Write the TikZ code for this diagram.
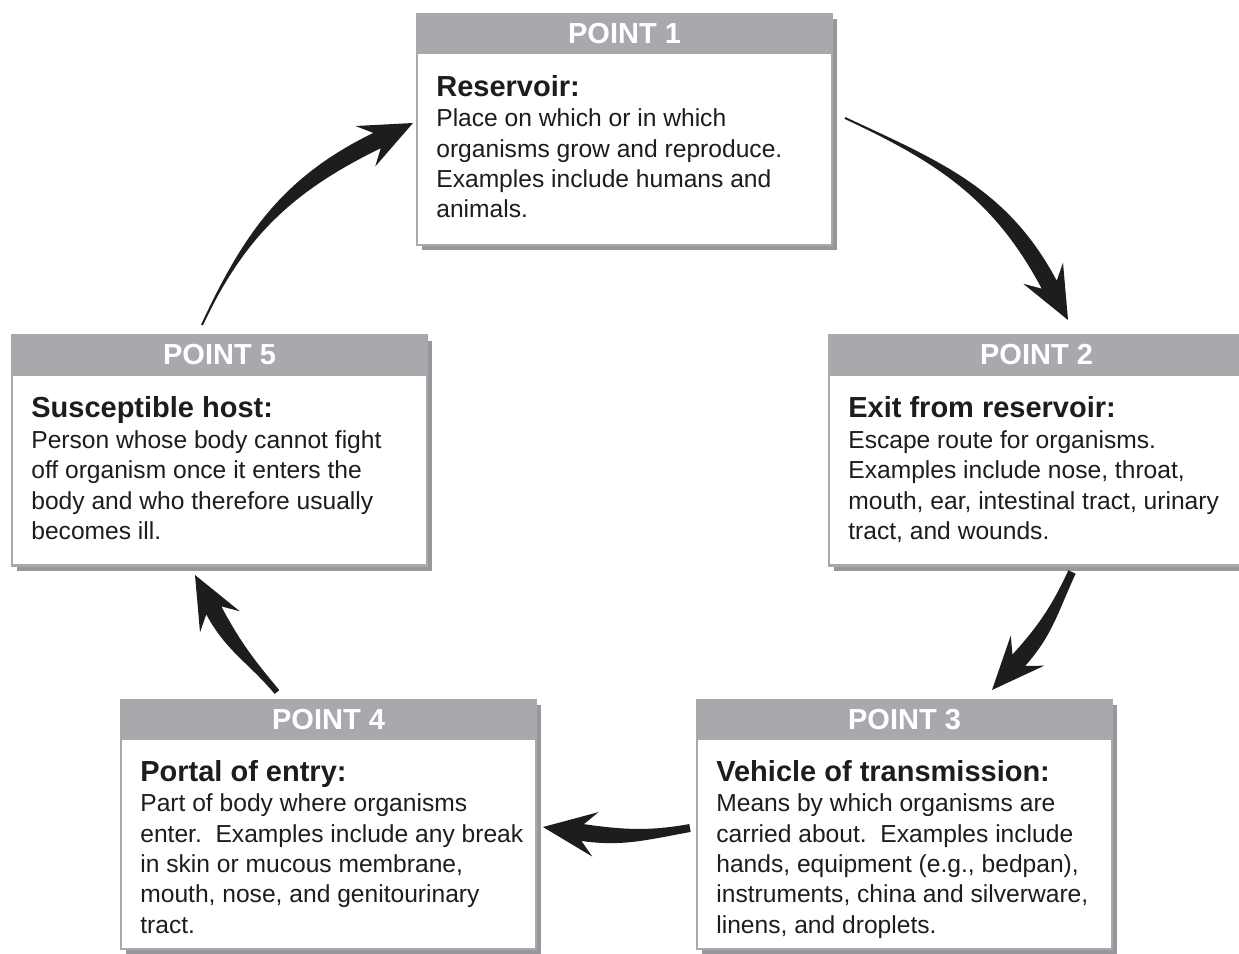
\documentclass[tikz,border=0pt]{standalone}
\usepackage{fontspec}
\setmainfont{Liberation Sans}
\usepackage{tikz}
\usetikzlibrary{positioning,calc,shadows}
\definecolor{boxgrey}{RGB}{167,169,172}
\definecolor{shadegrey}{RGB}{150,152,155}
\definecolor{inkblack}{RGB}{30,28,29}

% tapered arrow: start, end, out angle, arrival angle, start half width
\newcommand{\taperarrow}[5]{%
    \pgfmathsetmacro{\tback}{#4+180}
    \pgfmathsetmacro{\tleft}{#4+90}
    \pgfmathsetmacro{\tright}{#4-90}
    \pgfmathsetmacro{\sleft}{#3+90}
    \pgfmathsetmacro{\sright}{#3-90}
    \fill[bigarrow] ($(#1)+(\sleft:#5)$) to[out=#3,in=\tback] ($(#2)+(\tback:0.8)+(\tleft:0.17)$)
        -- ($(#2)+(\tback:1.06)+(\tleft:0.45)$) -- (#2)
        -- ($(#2)+(\tback:1.06)+(\tright:0.45)$)
        -- ($(#2)+(\tback:0.8)+(\tright:0.17)$) to[out=\tback,in=#3] ($(#1)+(\sright:#5)$) -- cycle;
}
\newcommand{\ptitle}[1]{{\fontsize{16.5}{17.3}\selectfont\bfseries #1}}

\begin{document}
\begin{tikzpicture}[
        pointhead/.style={
            rectangle,
            minimum width=8.3cm,
            minimum height=0.78cm,
            inner sep=0pt,
            outer sep=0pt,
            draw=boxgrey,
            line width=1.5pt,
            fill=boxgrey,
            text=white,
            font=\fontsize{16.5}{18}\selectfont\bfseries,
            drop shadow={shadow xshift=0.1cm, shadow yshift=-0.1cm, fill=shadegrey, opacity=1}
        },
        pointbody/.style={
            rectangle,
            minimum width=8.3cm,
            inner sep=0pt,
            outer sep=0pt,
            draw=boxgrey,
            line width=1.5pt,
            fill=white,
            drop shadow={shadow xshift=0.1cm, shadow yshift=-0.1cm, fill=shadegrey, opacity=1}
        },
        pointtext/.style={
            anchor=north west,
            align=left,
            inner sep=0pt,
            text=inkblack,
            font=\fontsize{14}{17.3}\selectfont
        },
        bigarrow/.style={
            fill=inkblack
        }
    ]
    \useasboundingbox[fill=white] (0,0) rectangle (24.78,-19.06);

    % Point 1 at the top
    \node[pointhead] (p1head) at (12.49,-0.67) {POINT 1};
    \node[pointbody, minimum height=3.84cm, below=0pt of p1head] (p1body) {};
    \node[pointtext] (p1text) at ([xshift=0.38cm,yshift=-0.44cm]p1body.north west) {\ptitle{Reservoir:}\\Place on which or in which\\organisms grow and reproduce.\\Examples include humans and\\animals.};

    % Point 2 on the right
    \node[pointhead] (p2head) at (20.73,-7.10) {POINT 2};
    \node[pointbody, minimum height=3.82cm, below=0pt of p2head] (p2body) {};
    \node[pointtext] (p2text) at ([xshift=0.38cm,yshift=-0.44cm]p2body.north west) {\ptitle{Exit from reservoir:}\\Escape route for organisms.\\Examples include nose, throat,\\mouth, ear, intestinal tract, urinary\\tract, and wounds.};

    % Point 3 bottom right
    \node[pointhead] (p3head) at (18.09,-14.39) {POINT 3};
    \node[pointbody, minimum height=4.2cm, below=0pt of p3head] (p3body) {};
    \node[pointtext] (p3text) at ([xshift=0.38cm,yshift=-0.42cm]p3body.north west) {\ptitle{Vehicle of transmission:}\\Means by which organisms are\\carried about.\ \ Examples include\\hands, equipment (e.g., bedpan),\\instruments, china and silverware,\\linens, and droplets.};

    % Point 4 bottom left
    \node[pointhead] (p4head) at (6.57,-14.39) {POINT 4};
    \node[pointbody, minimum height=4.2cm, below=0pt of p4head] (p4body) {};
    \node[pointtext] (p4text) at ([xshift=0.38cm,yshift=-0.42cm]p4body.north west) {\ptitle{Portal of entry:}\\Part of body where organisms\\enter.\ \ Examples include any break\\in skin or mucous membrane,\\mouth, nose, and genitourinary\\tract.};

    % Point 5 on the left
    \node[pointhead] (p5head) at (4.39,-7.10) {POINT 5};
    \node[pointbody, minimum height=3.82cm, below=0pt of p5head] (p5body) {};
    \node[pointtext] (p5text) at ([xshift=0.38cm,yshift=-0.44cm]p5body.north west) {\ptitle{Susceptible host:}\\Person whose body cannot fight\\off organism once it enters the\\body and who therefore usually\\becomes ill.};

    % Arrow ends
    \coordinate (a1s) at (16.9,-2.36);
    \coordinate (a1e) at (21.36,-6.40);
    \coordinate (a2s) at (21.44,-11.44);
    \coordinate (a2e) at (19.84,-13.80);
    \coordinate (a3s) at (13.8,-16.56);
    \coordinate (a3e) at (10.86,-16.54);
    \coordinate (a4s) at (5.54,-13.84);
    \coordinate (a4e) at (3.9,-11.5);
    \coordinate (a5s) at (4.04,-6.5);
    \coordinate (a5e) at (8.26,-2.46);

    % Draw the cycle arrows
    \taperarrow{a1s}{a1e}{-25}{-62}{0.02}
    \taperarrow{a2s}{a2e}{-115}{-132}{0.08}
    \taperarrow{a3s}{a3e}{190}{172}{0.08}
    \taperarrow{a4s}{a4e}{130}{118}{0.06}
    \taperarrow{a5s}{a5e}{65}{26}{0.02}

\end{tikzpicture}
\end{document}
